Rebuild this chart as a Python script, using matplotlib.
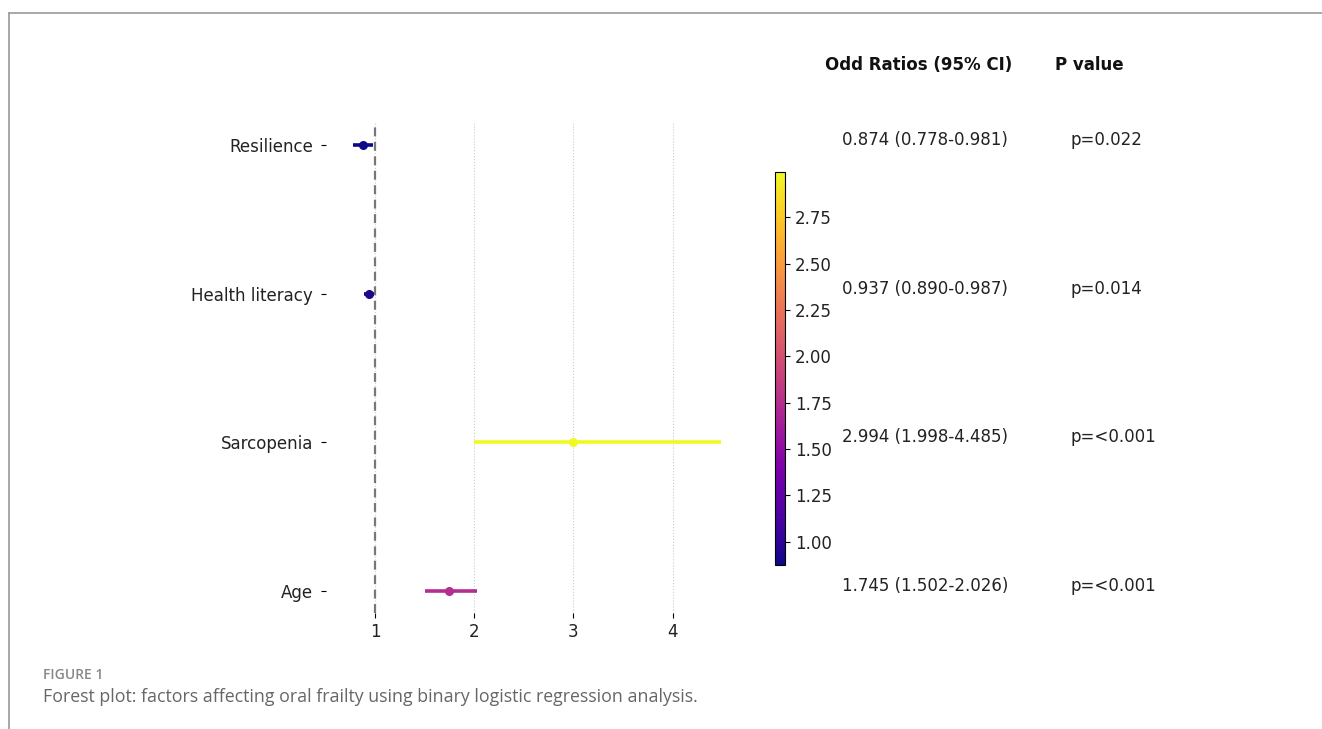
#
#  Forest plot of odds ratios (binary logistic regression)
#  with a colour bar keyed to the odds ratio and a side table.
#
import numpy as np
import matplotlib
matplotlib.use('Agg')
import matplotlib.pyplot as plt
from matplotlib.lines import Line2D
from matplotlib.transforms import blended_transform_factory

plt.rcParams['font.family'] = ['DejaVu Sans']

factors    = ['Age', 'Sarcopenia', 'Health literacy', 'Resilience']
odds       = [1.745, 2.994, 0.937, 0.874]
ci_low     = [1.502, 1.998, 0.890, 0.778]
ci_high    = [2.026, 4.485, 0.987, 0.981]
p_labels   = ['p=<0.001', 'p=<0.001', 'p=0.014', 'p=0.022']
cbar_ticks = [1.00, 1.25, 1.50, 1.75, 2.00, 2.25, 2.50, 2.75]

W, H = 1322, 729
fig = plt.figure(figsize=(W / 100, H / 100), dpi=100)
fig.patch.set_facecolor('white')

def px(x0, y0, x1, y1):
    # pixel box (top-left origin) -> figure fraction rect
    return [x0 / W, 1 - y1 / H, (x1 - x0) / W, (y1 - y0) / H]

ax = fig.add_axes(px(326, 123, 740, 613))
cax = fig.add_axes(px(775, 172, 785, 565))

cmap = plt.cm.plasma
norm = plt.Normalize(min(odds), max(odds))
ypos = np.arange(len(factors))

for i in range(len(factors)):
    c = cmap(norm(odds[i]))
    ax.errorbar(odds[i], ypos[i],
                xerr=[[odds[i] - ci_low[i]], [ci_high[i] - odds[i]]],
                fmt='o', color=c, ecolor=c, elinewidth=2.6, ms=5.5, capsize=0)

ax.axvline(1, color='#777777', ls='--', lw=1.6, dashes=(4, 2.5))
ax.set_yticks(ypos)
ax.set_yticklabels(factors, fontsize=12, color='#222222')
ax.tick_params(axis='y', pad=6)
ax.set_xticks([1, 2, 3, 4])
ax.tick_params(axis='x', labelsize=12, labelcolor='#222222')
ax.set_xlim(0.505, 4.68)
ax.set_ylim(-0.15, 3.15)
ax.grid(True, axis='x', ls=':', color='#cccccc', lw=0.8)
ax.set_axisbelow(True)
for s in ax.spines.values():
    s.set_visible(False)

sm = plt.cm.ScalarMappable(cmap=cmap, norm=norm)
cb = fig.colorbar(sm, cax=cax, ticks=cbar_ticks)
cb.ax.set_yticklabels(['%.2f' % t for t in cbar_ticks])
cb.ax.tick_params(labelsize=12, labelcolor='#222222')

# side table
tr = blended_transform_factory(fig.transFigure, ax.transData)
fig.text(919 / W, 1 - 65 / H, 'Odd Ratios (95% CI)', ha='center', va='center',
         fontsize=12, fontweight='bold', color='#111111')
fig.text(1089 / W, 1 - 65 / H, 'P value', ha='center', va='center',
         fontsize=12, fontweight='bold', color='#111111')
for i in range(len(factors)):
    txt = '%.3f (%.3f-%.3f)' % (odds[i], ci_low[i], ci_high[i])
    fig.text(842 / W, ypos[i], txt, transform=tr, ha='left', va='baseline',
             fontsize=12, color='#222222')
    fig.text(1070 / W, ypos[i], p_labels[i], transform=tr, ha='left', va='baseline',
             fontsize=12, color='#222222')

# page frame and caption
fig.add_artist(Line2D([9 / W, 1], [1 - 13 / H, 1 - 13 / H], transform=fig.transFigure,
                      color='#a0a0a0', lw=1.3))
fig.add_artist(Line2D([9 / W, 9 / W], [0, 1 - 13 / H], transform=fig.transFigure,
                      color='#a0a0a0', lw=1.3))
fig.text(43 / W, 1 - 675 / H, 'FIGURE 1', ha='left', va='center',
         fontsize=10, fontweight='semibold', color='#888888', family='Open Sans')
fig.text(43 / W, 1 - 697 / H,
         'Forest plot: factors affecting oral frailty using binary logistic regression analysis.',
         ha='left', va='center', fontsize=12.8, color='#666666', family='Open Sans')

fig.savefig('out.png', dpi=100)
